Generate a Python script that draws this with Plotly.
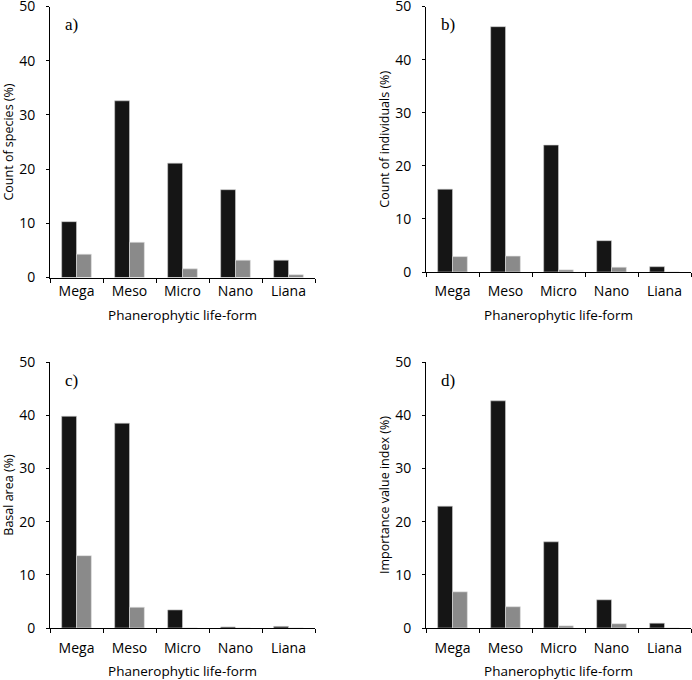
import plotly.graph_objects as go

categories = ['Mega', 'Meso', 'Micro', 'Nano', 'Liana']

# a) count of species (%)
species_dark = [10.3, 32.6, 21.1, 16.2, 3.2]
species_grey = [4.3, 6.5, 1.6, 3.2, 0.5]
# b) count of individuals (%)
indiv_dark = [15.6, 46.2, 23.9, 5.9, 1.0]
indiv_grey = [2.9, 3.0, 0.4, 0.9, 0.0]
# c) basal area (%)
basal_dark = [39.8, 38.5, 3.4, 0.2, 0.3]
basal_grey = [13.6, 3.9, 0.0, 0.0, 0.0]
# d) importance value index (%)
ivi_dark = [22.9, 42.7, 16.2, 5.3, 0.9]
ivi_grey = [6.8, 4.0, 0.4, 0.8, 0.0]

panels = [
    ('a)', 'Count of species (%)', species_dark, species_grey),
    ('b)', 'Count of individuals (%)', indiv_dark, indiv_grey),
    ('c)', 'Basal area (%)', basal_dark, basal_grey),
    ('d)', 'Importance value index (%)', ivi_dark, ivi_grey),
]

W, H = 692, 680
# panel boxes in pixels: x0, x1, ytop, ybottom, gap of x tick labels
boxes = [
    (50, 315, 6.5, 277.5, 1),
    (426, 691, 6.5, 272, 6),
    (50, 315, 362, 628, 7),
    (426, 691, 362, 628, 7),
]

font_sans = 'Open Sans'
fig = go.Figure()

for i, ((lab, ytitle, dark, grey), (x0, x1, yt, yb, gap)) in enumerate(zip(panels, boxes)):
    n = '' if i == 0 else str(i + 1)
    fig.add_trace(go.Bar(x=categories, y=dark, marker_color='#151515',
                         marker_line=dict(color='#cfcfcf', width=0.6),
                         xaxis='x' + n, yaxis='y' + n, showlegend=False))
    fig.add_trace(go.Bar(x=categories, y=grey, marker_color='#8a8a8a',
                         marker_line=dict(color='#e0e0e0', width=0.6),
                         xaxis='x' + n, yaxis='y' + n, showlegend=False))

    fig.layout['xaxis' + n] = dict(
        domain=[x0 / W, x1 / W], anchor='y' + n, automargin=False,
        range=[-0.5, 4.5], showline=True, linecolor='black', linewidth=1,
        ticks='outside', tickson='boundaries', ticklen=4, tickcolor='black',
        ticklabelstandoff=gap,
        tickfont=dict(family=font_sans, size=14, color='black'),
        title=dict(text='Phanerophytic life-form', standoff=11,
                   font=dict(family=font_sans, size=13.5, color='black')),
        showgrid=False, zeroline=False,
    )
    fig.layout['yaxis' + n] = dict(
        domain=[1 - yb / H, 1 - yt / H], anchor='x' + n, automargin=False,
        range=[0, 50], dtick=10, showline=True, linecolor='black', linewidth=1,
        ticks='outside', ticklen=3, tickcolor='black',
        ticklabelstandoff=8, ticklabeloverflow='allow',
        tickfont=dict(family=font_sans, size=14, color='black'),
        title=dict(text=ytitle, standoff=2,
                   font=dict(family=font_sans, size=12.5, color='black')),
        showgrid=False, zeroline=False,
    )

    fig.add_annotation(text=lab, x=(x0 + 13) / W, y=1 - (yt + 18) / H,
                       xref='paper', yref='paper', xanchor='left', yanchor='middle',
                       showarrow=False,
                       font=dict(family='Liberation Serif', size=17, color='black'))

fig.update_layout(
    width=W, height=H,
    margin=dict(l=0, r=0, t=0, b=0),
    barmode='group', bargap=0.44, bargroupgap=0,
    plot_bgcolor='white', paper_bgcolor='white',
)

fig.write_html('out.html', config={'displayModeBar': False},
               post_script="document.body.style.margin='0';"
                           "document.body.style.overflow='hidden';")
